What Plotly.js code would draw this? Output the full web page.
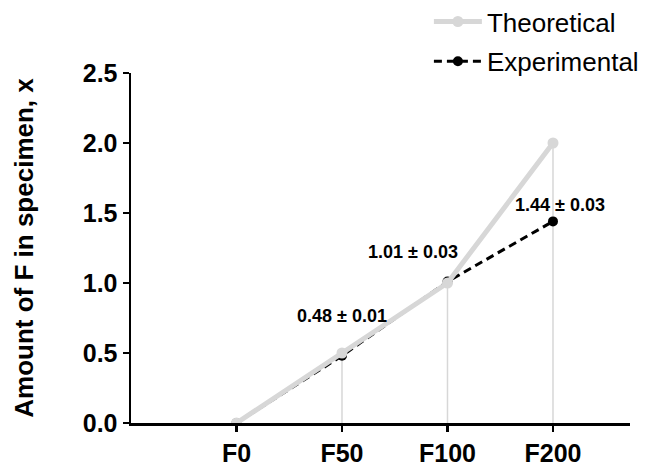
<!DOCTYPE html>
<html>
<head>
<meta charset="utf-8">
<script src="https://cdn.plot.ly/plotly-3.0.1.min.js"></script>
<style>html,body{margin:0;padding:0;background:#fff;}#chart{width:656px;height:465px;}</style>
</head>
<body>
<div id="chart"></div>
<script>
const categories = ["F0", "F50", "F100", "F200"];
const theoretical = [0, 0.5, 1.0, 2.0];
const experimental = [0, 0.48, 1.01, 1.44];
const experimentalSD = [0, 0.01, 0.03, 0.03];
const labelIdx = [1, 2, 3];

const GRAY = "#d7d7d7";
const FONT = "Liberation Sans, Arial, sans-serif";

const drops = {
  x: categories, y: theoretical, type: "scatter", mode: "markers",
  marker: {size: 1, opacity: 0}, showlegend: false, hoverinfo: "skip",
  error_y: {type: "data", symmetric: false, array: theoretical.map(() => 0),
            arrayminus: theoretical, color: GRAY, thickness: 1.5, width: 0}
};
const exp = {
  x: categories, y: experimental, type: "scatter", mode: "lines+markers",
  name: "Experimental", legendgroup: "e", legendrank: 2,
  line: {color: "#000", width: 3, dash: "8px,5px"},
  marker: {color: "#000", size: 10}
};
const theo = {
  x: categories, y: theoretical, type: "scatter", mode: "lines+markers",
  name: "Theoretical", legendgroup: "t", legendrank: 1,
  line: {color: GRAY, width: 5},
  marker: {color: GRAY, size: 11}
};

const shifts = {1: [0, 40], 2: [-34, 30], 3: [7, 16]};
const annotations = labelIdx.map(i => ({
  x: categories[i], y: experimental[i], xref: "x", yref: "y",
  text: experimental[i].toFixed(2) + " ± " + experimentalSD[i].toFixed(2),
  showarrow: false, xshift: shifts[i][0], yshift: shifts[i][1],
  font: {family: FONT, size: 18, color: "#000", weight: "bold"}
}));

const layout = {
  width: 656, height: 465,
  margin: {l: 131, r: 26, t: 73, b: 42, autoexpand: false},
  paper_bgcolor: "#fff", plot_bgcolor: "#fff",
  font: {family: FONT, color: "#000"},
  showlegend: true,
  legend: {x: 0.597, y: 1.214, xanchor: "left", yanchor: "top",
           traceorder: "grouped", tracegroupgap: 3, itemwidth: 48,
           bgcolor: "rgba(0,0,0,0)",
           font: {family: FONT, size: 26, color: "#000"}},
  xaxis: {type: "category", range: [-1.0, 3.73], showgrid: false, zeroline: false,
          showline: true, linecolor: "#000", linewidth: 2.5,
          ticks: "outside", ticklen: 6, tickwidth: 2.5, tickcolor: "#000",
          tickfont: {family: FONT, size: 25, color: "#000", weight: "bold"}},
  yaxis: {range: [0, 2.5], dtick: 0.5, tick0: 0, tickformat: ".1f",
          showgrid: false, zeroline: false,
          showline: true, linecolor: "#000", linewidth: 2.5,
          ticks: "outside", ticklen: 6, tickwidth: 2.5, tickcolor: "#000",
          tickfont: {family: FONT, size: 25, color: "#000", weight: "bold"},
          title: {text: "Amount of F in specimen, x", standoff: 42,
                  font: {family: FONT, size: 26, color: "#000", weight: "bold"}}},
  annotations: annotations
};

Plotly.newPlot("chart", [drops, exp, theo], layout, {staticPlot: true, displayModeBar: false});
</script>
</body>
</html>
